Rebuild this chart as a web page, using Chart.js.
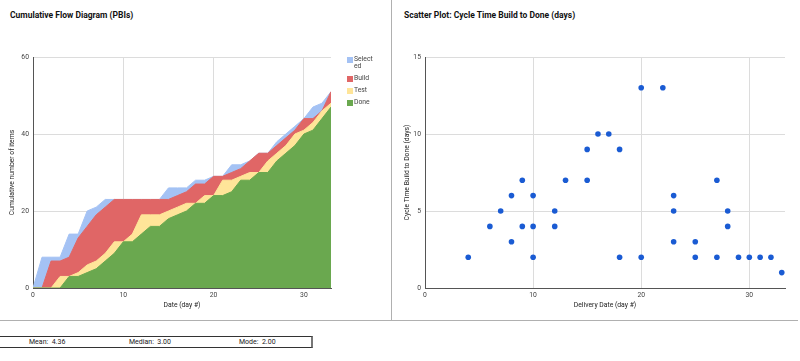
<!DOCTYPE html>
<html>
<head>
<meta charset="utf-8">
<script src="https://cdn.jsdelivr.net/npm/chart.js@4.4.0/dist/chart.umd.min.js"></script>
<style>
  html,body{margin:0;padding:0;background:#fff;}
  body{width:800px;height:361px;position:relative;overflow:hidden;font-family:Roboto,Arial,sans-serif;}
  .title{position:absolute;font-weight:bold;font-size:8.5px;color:#111;white-space:nowrap;}
  #c1{position:absolute;left:0;top:0;}
  #c2{position:absolute;left:400px;top:0;}
  .vline{position:absolute;left:391px;top:0;width:1px;height:321px;background:#b0b0b0;}
  .hline{position:absolute;left:0;top:320px;width:798px;height:1px;background:#b0b0b0;}
  .legend{position:absolute;left:347px;top:56px;font-size:6.8px;color:#444;}
  .li{position:relative;height:12px;}
  .sw{position:absolute;left:0;width:6px;height:6px;}
  .lt{position:absolute;left:7px;line-height:7px;}
  .stats{position:absolute;left:-1px;top:336px;width:311px;height:10px;border:1px solid #333;border-right:2px solid #777;font-size:7px;color:#222;}
  .stats span{position:absolute;top:1px;white-space:nowrap;}
</style>
</head>
<body>
<div class="title" style="left:10px;top:10px;">Cumulative Flow Diagram (PBIs)</div>
<div class="title" style="left:404px;top:10px;">Scatter Plot: Cycle Time Build to Done (days)</div>
<canvas id="c1" width="390" height="320"></canvas>
<canvas id="c2" width="400" height="320"></canvas>
<div class="vline"></div>
<div class="hline"></div>
<div class="legend" id="legend"></div>
<div class="stats">
  <span style="left:29px;">Mean:&nbsp; 4.36</span>
  <span style="left:129px;">Median:&nbsp; 3.00</span>
  <span style="left:239px;">Mode:&nbsp; 2.00</span>
</div>
<script>
// ---- Cumulative flow data (cumulative counts per day) ----
const days = [0,1,2,3,4,5,6,7,8,9,10,11,12,13,14,15,16,17,18,19,20,21,22,23,24,25,26,27,28,29,30,31,32,33];
const selected = [0,8,8,8,14,14,20,21,23,23,23,23,23,23,23,26,26,26,28,28,29,29,32,32,33,35,35,38,40,42,44,47,48,51];
const build    = [0,0,7,7,8,13,16,19,21,23,23,23,23,23,23,23,24,25,27,27,29,29,30,31,33,35,35,37,39,41,44,44,46,51];
const test     = [0,0,0,3,3,4,6,7,9,12,12,14,19,19,19,20,21,22,22,24,24,28,28,29,30,30,33,35,37,40,41,43,46,48];
const done     = [0,0,0,0,3,3,4,5,7,9,12,12,14,16,16,18,19,20,22,22,24,24,25,28,28,30,30,33,35,37,40,41,44,47];
const cfdSeriesNames = ["Selected","Build","Test","Done"];
const cfdColors = ["#a4c2f4","#e06666","#ffe599","#6aa84f"];
const cfdXTicks = [0,10,20,30];
const cfdYTicks = [0,20,40,60];

// ---- Scatter data ----
const deliveryDay = [4,6,7,8,8,9,9,10,10,10,12,12,13,15,15,16,17,18,18,20,20,22,23,23,23,25,25,27,27,28,28,29,30,31,32,33];
const cycleTime   = [2,4,5,6,3,7,4,6,4,2,5,4,7,9,7,10,10,9,2,13,2,13,6,5,3,3,2,7,2,5,4,2,2,2,2,1];
const scXTicks = [0,10,20,30];
const scYTicks = [0,5,10,15];

const FONT = "Roboto, Arial, sans-serif";
const tickFont = {family: FONT, size: 6.8};
const titleFont = {family: FONT, size: 6.8};

function pts(xs, ys){ return xs.map((x,i)=>({x:x, y:ys[i]})); }

// legend
const leg = document.getElementById('legend');
const legLabels = ["Select<br>ed","Build","Test","Done"];
const legTops = [0,19,31,43];
legLabels.forEach((t,i)=>{
  const d = document.createElement('div');
  d.style.position='absolute'; d.style.top=legTops[i]+'px'; d.style.left='0px'; d.style.width='40px';
  d.innerHTML = '<div class="sw" style="top:1px;background:'+cfdColors[i]+'"></div><div class="lt" style="top:0px">'+t+'</div>';
  leg.appendChild(d);
});

const cfdData = [selected, build, test, done];
// draw order: Done on top -> put it first
const cfdDatasets = [3,2,1,0].map(i=>({
  label: cfdSeriesNames[i],
  data: pts(days, cfdData[i]),
  backgroundColor: cfdColors[i],
  borderColor: cfdColors[i],
  borderWidth: 1,
  fill: 'origin',
  pointRadius: 0,
  tension: 0
}));

new Chart(document.getElementById('c1'), {
  type: 'line',
  data: {datasets: cfdDatasets},
  options: {
    responsive: false, animation: false,
    layout: {padding: {top: 57, right: 59, bottom: 8, left: 0}},
    plugins: {legend: {display: false}, tooltip: {enabled: false}},
    scales: {
      x: {
        type: 'linear', min: 0, max: 33,
        afterBuildTicks: s => { s.ticks = cfdXTicks.map(v=>({value:v})); },
        afterFit: s => { s.height = 24; },
        grid: {color: '#dcdcdc', drawTicks: false},
        border: {color: '#555'},
        ticks: {font: tickFont, color: '#444', padding: 3},
        title: {display: true, text: 'Date (day #)', font: titleFont, color: '#222', padding: {top: 0, bottom: 2.4}}
      },
      y: {
        min: 0, max: 60,
        afterBuildTicks: s => { s.ticks = cfdYTicks.map(v=>({value:v})); },
        afterFit: s => { s.width = 33; },
        grid: {color: '#dcdcdc', drawTicks: false},
        border: {color: '#555'},
        ticks: {font: tickFont, color: '#444', padding: 4},
        title: {display: true, text: 'Cumulative number of items', font: titleFont, color: '#222', padding: {top: 8, bottom: 0}}
      }
    }
  }
});

new Chart(document.getElementById('c2'), {
  type: 'scatter',
  data: {datasets: [{
    label: 'Cycle Time',
    data: pts(deliveryDay, cycleTime),
    backgroundColor: '#1a5bd3',
    borderColor: '#1a5bd3',
    pointRadius: 2.8,
    borderWidth: 0
  }]},
  options: {
    responsive: false, animation: false,
    layout: {padding: {top: 57, right: 15, bottom: 8, left: 0}},
    plugins: {legend: {display: false}, tooltip: {enabled: false}},
    scales: {
      x: {
        type: 'linear', min: 0, max: 33.3,
        afterBuildTicks: s => { s.ticks = scXTicks.map(v=>({value:v})); },
        afterFit: s => { s.height = 24; },
        grid: {color: '#dcdcdc', drawTicks: false},
        border: {color: '#555'},
        ticks: {font: tickFont, color: '#444', padding: 3},
        title: {display: true, text: 'Delivery Date (day #)', font: titleFont, color: '#222', padding: {top: 0, bottom: 2.4}}
      },
      y: {
        min: 0, max: 15,
        afterBuildTicks: s => { s.ticks = scYTicks.map(v=>({value:v})); },
        afterFit: s => { s.width = 25; },
        grid: {color: '#dcdcdc', drawTicks: false},
        border: {color: '#555'},
        ticks: {font: tickFont, color: '#444', padding: 4},
        title: {display: true, text: 'Cycle Time Build to Done (days)', font: titleFont, color: '#222', padding: {top: 3, bottom: 0}}
      }
    }
  }
});
</script>
</body>
</html>
